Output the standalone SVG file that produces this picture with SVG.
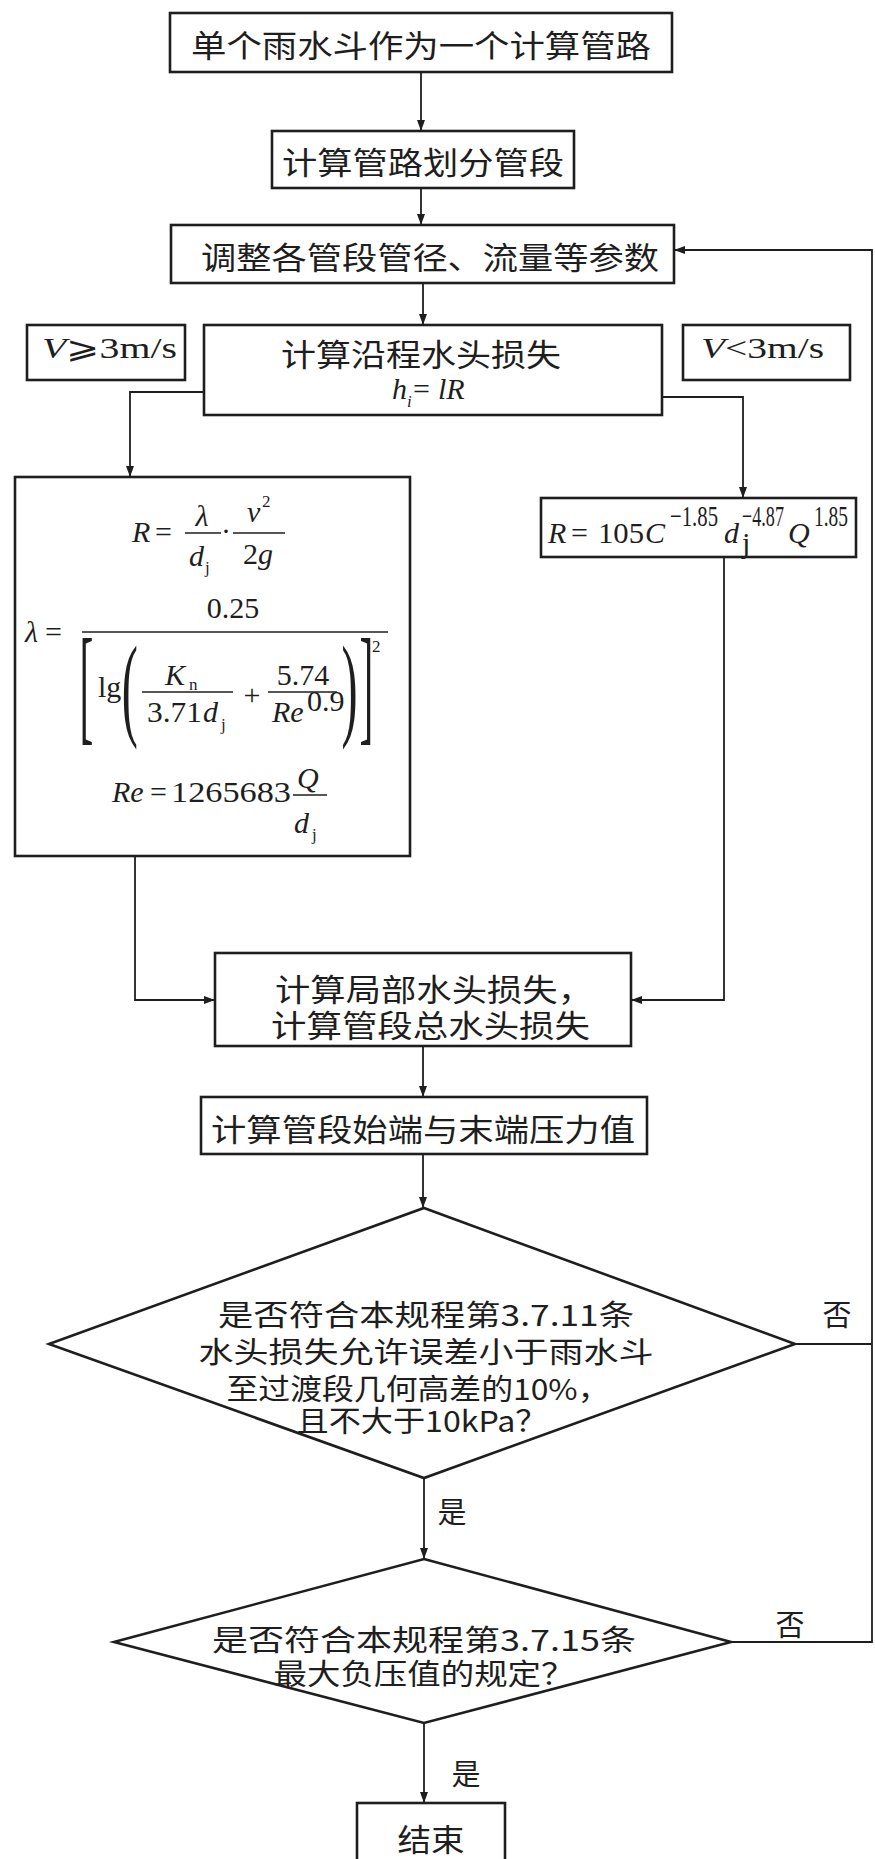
<svg xmlns="http://www.w3.org/2000/svg" width="875" height="1859" viewBox="0 0 875 1859">
<defs>
<marker id="arr" markerUnits="userSpaceOnUse" markerWidth="12" markerHeight="8" refX="11" refY="4" orient="auto">
<path d="M0,0 L11,4 L0,8 z" fill="#1e1e1e"/>
</marker>
<style>
.box{fill:#fff;stroke:#1e1e1e;stroke-width:2.6}
.edge{fill:none;stroke:#1e1e1e;stroke-width:1.8}
.arrow{marker-end:url(#arr)}
.cn{font-family:"Noto Sans CJK SC","Noto Sans CJK TC",sans-serif;font-size:31px;fill:#1e1e1e}
.dc{font-size:29px}
.m{font-family:"Liberation Serif","Times New Roman",serif;font-size:30px;fill:#1e1e1e}
.it{font-style:italic}
.s{font-size:17px}
.bar{stroke:#1e1e1e;stroke-width:1.4}
.big{font-family:"Liberation Serif",serif;fill:#1e1e1e}
</style>
</defs>
<rect width="875" height="1859" fill="#fff"/>

<g id="connectors">
<line class="edge arrow" x1="421" y1="72" x2="421" y2="131"/>
<line class="edge arrow" x1="421" y1="188" x2="421" y2="225"/>
<line class="edge arrow" x1="423" y1="283" x2="423" y2="325"/>
<polyline class="edge arrow" points="204,392 130,392 130,477"/>
<polyline class="edge arrow" points="662,397 743,397 743,498"/>
<polyline class="edge arrow" points="135,856 135,1000 215,1000"/>
<polyline class="edge arrow" points="724,557 724,1000 631,1000"/>
<line class="edge arrow" x1="423" y1="1046" x2="423" y2="1097"/>
<line class="edge arrow" x1="423" y1="1154" x2="423" y2="1208"/>
<line class="edge arrow" x1="424" y1="1478" x2="424" y2="1559"/>
<line class="edge arrow" x1="424" y1="1723" x2="424" y2="1803"/>
<polyline class="edge" points="795,1344 872,1344"/>
<polyline class="edge arrow" points="731,1642 872,1642 872,250 674,250"/>
<text class="cn dc" x="837" y="1313" text-anchor="middle" dominant-baseline="central">否</text>
<text class="cn dc" x="452" y="1510" text-anchor="middle" dominant-baseline="central">是</text>
<text class="cn dc" x="790" y="1623" text-anchor="middle" dominant-baseline="central">否</text>
<text class="cn dc" x="466" y="1772" text-anchor="middle" dominant-baseline="central">是</text>
</g>

<g id="n1">
<rect class="box" x="170" y="13" width="502" height="59"/>
<text class="cn" x="421" y="43" text-anchor="middle" dominant-baseline="central" textLength="460" lengthAdjust="spacingAndGlyphs">单个雨水斗作为一个计算管路</text>
</g>

<g id="n2">
<rect class="box" x="272" y="131" width="302" height="57"/>
<text class="cn" x="423" y="160" text-anchor="middle" dominant-baseline="central" textLength="282" lengthAdjust="spacingAndGlyphs">计算管路划分管段</text>
</g>

<g id="n3">
<rect class="box" x="171" y="225" width="503" height="58"/>
<text class="cn" x="430" y="255" text-anchor="middle" dominant-baseline="central" textLength="458" lengthAdjust="spacingAndGlyphs">调整各管段管径、流量等参数</text>
</g>

<g id="n4">
<rect class="box" x="204" y="325" width="458" height="90"/>
<text class="cn" x="421" y="352" text-anchor="middle" dominant-baseline="central" textLength="280" lengthAdjust="spacingAndGlyphs">计算沿程水头损失</text>
<text class="m it" x="392" y="399">h</text>
<text class="m it s" x="407" y="407">i</text>
<text class="m" x="413" y="399">=</text>
<text class="m it" x="438" y="399">lR</text>
</g>

<g id="cond-high">
<rect class="box" x="27" y="325" width="158" height="55"/>
<text class="m" x="42" y="358" textLength="135" lengthAdjust="spacingAndGlyphs"><tspan class="it">V</tspan>⩾3m/s</text>
</g>

<g id="cond-low">
<rect class="box" x="683" y="325" width="167" height="55"/>
<text class="m" x="701" y="358" textLength="123" lengthAdjust="spacingAndGlyphs"><tspan class="it">V</tspan>&lt;3m/s</text>
</g>

<g id="n5">
<rect class="box" x="15" y="477" width="395" height="379"/>
<text class="m it" x="132" y="542">R</text>
<text class="m" x="155" y="542">=</text>
<text class="m it" x="202" y="526" text-anchor="middle">λ</text>
<line class="bar" x1="185" y1="533" x2="221" y2="533"/>
<text class="m it" x="189" y="566">d</text>
<text class="m s" x="205" y="573">j</text>
<text class="m" x="226" y="541" text-anchor="middle">·</text>
<line class="bar" x1="233" y1="533" x2="285" y2="533"/>
<text class="m it" x="247" y="522">v</text>
<text class="m s" x="262" y="507">2</text>
<text class="m" x="243" y="564">2<tspan class="it">g</tspan></text>

<text class="m it" x="25" y="642">λ</text>
<text class="m" x="45" y="642">=</text>
<line class="bar" x1="82" y1="632" x2="388" y2="632"/>
<text class="m" x="233" y="618" text-anchor="middle">0.25</text>
<text class="big" font-size="130" transform="translate(83,728) scale(0.32,1)" x="-11" y="0">[</text>
<text class="m" x="98" y="697">lg</text>
<text class="big" font-size="115" transform="translate(124,725) scale(0.42,1)" x="-5.5" y="0">(</text>
<line class="bar" x1="142" y1="692" x2="233" y2="692"/>
<text class="m it" x="165" y="685">K</text>
<text class="m s" x="189" y="690">n</text>
<text class="m" x="147" y="722" textLength="55" lengthAdjust="spacingAndGlyphs">3.71</text>
<text class="m it" x="203" y="722">d</text>
<text class="m s" x="221" y="730">j</text>
<text class="m" x="252" y="705" text-anchor="middle">+</text>
<line class="bar" x1="268" y1="692" x2="337" y2="692"/>
<text class="m" x="303" y="685" text-anchor="middle">5.74</text>
<text class="m it" x="272" y="722">Re</text>
<text class="m" x="307" y="711" font-size="15">0.9</text>
<text class="big" font-size="115" transform="translate(343,725) scale(0.42,1)" x="-3.3" y="0">)</text>
<text class="big" font-size="130" transform="translate(361,728) scale(0.32,1)" x="-4.4" y="0">]</text>
<text class="m s" x="372" y="652">2</text>

<text class="m it" x="112" y="802" font-size="32">Re</text>
<text class="m" x="150" y="802" font-size="32">=</text>
<text class="m" x="171" y="802" font-size="32" textLength="120" lengthAdjust="spacingAndGlyphs">1265683</text>
<line class="bar" x1="293" y1="795" x2="327" y2="795"/>
<text class="m it" x="297" y="788" font-size="32">Q</text>
<text class="m it" x="294" y="833" font-size="32">d</text>
<text class="m s" x="312" y="840">j</text>
</g>

<g id="n6">
<rect class="box" x="541" y="498" width="315" height="59"/>
<text class="m it" x="548" y="543" font-size="32">R</text>
<text class="m" x="571" y="543" font-size="32">=</text>
<text class="m" x="598" y="543" font-size="32" textLength="46" lengthAdjust="spacingAndGlyphs">105</text>
<text class="m it" x="645" y="543" font-size="32">C</text>
<text class="m" x="670" y="526" font-size="18" textLength="48" lengthAdjust="spacingAndGlyphs">−1.85</text>
<text class="m it" x="724" y="543" font-size="32">d</text>
<text class="m" x="742" y="553" font-size="15">j</text>
<text class="m" x="742" y="526" font-size="18" textLength="42" lengthAdjust="spacingAndGlyphs">−4.87</text>
<text class="m it" x="788" y="543" font-size="32">Q</text>
<text class="m" x="814" y="526" font-size="18" textLength="34" lengthAdjust="spacingAndGlyphs">1.85</text>
</g>

<g id="n7">
<rect class="box" x="215" y="953" width="416" height="93"/>
<text class="cn" x="275" y="987" dominant-baseline="central" textLength="318" lengthAdjust="spacingAndGlyphs">计算局部水头损失，</text>
<text class="cn" x="271" y="1023" dominant-baseline="central" textLength="319" lengthAdjust="spacingAndGlyphs">计算管段总水头损失</text>
</g>

<g id="n8">
<rect class="box" x="201" y="1097" width="446" height="57"/>
<text class="cn" x="423" y="1127" text-anchor="middle" dominant-baseline="central" textLength="424" lengthAdjust="spacingAndGlyphs">计算管段始端与末端压力值</text>
</g>

<g id="n9">
<polygon class="box" points="424,1208 795,1344 424,1478 49,1344"/>
<text class="cn dc" x="426" y="1313" text-anchor="middle" dominant-baseline="central" textLength="416" lengthAdjust="spacingAndGlyphs">是否符合本规程第3.7.11条</text>
<text class="cn dc" x="426" y="1350" text-anchor="middle" dominant-baseline="central" textLength="455" lengthAdjust="spacingAndGlyphs">水头损失允许误差小于雨水斗</text>
<text class="cn dc" x="418" y="1387" text-anchor="middle" dominant-baseline="central" textLength="383" lengthAdjust="spacingAndGlyphs">至过渡段几何高差的10%，</text>
<text class="cn dc" x="422" y="1419" text-anchor="middle" dominant-baseline="central" textLength="251" lengthAdjust="spacingAndGlyphs">且不大于10kPa？</text>
</g>

<g id="n10">
<polygon class="box" points="424,1559 731,1642 424,1723 114,1642"/>
<text class="cn dc" x="424" y="1638" text-anchor="middle" dominant-baseline="central" textLength="424" lengthAdjust="spacingAndGlyphs">是否符合本规程第3.7.15条</text>
<text class="cn dc" x="424" y="1672" text-anchor="middle" dominant-baseline="central" textLength="301" lengthAdjust="spacingAndGlyphs">最大负压值的规定？</text>
</g>

<g id="n11">
<rect class="box" x="357" y="1803" width="148" height="70"/>
<text class="cn" x="431" y="1837" text-anchor="middle" dominant-baseline="central" textLength="67" lengthAdjust="spacingAndGlyphs">结束</text>
</g>
</svg>
